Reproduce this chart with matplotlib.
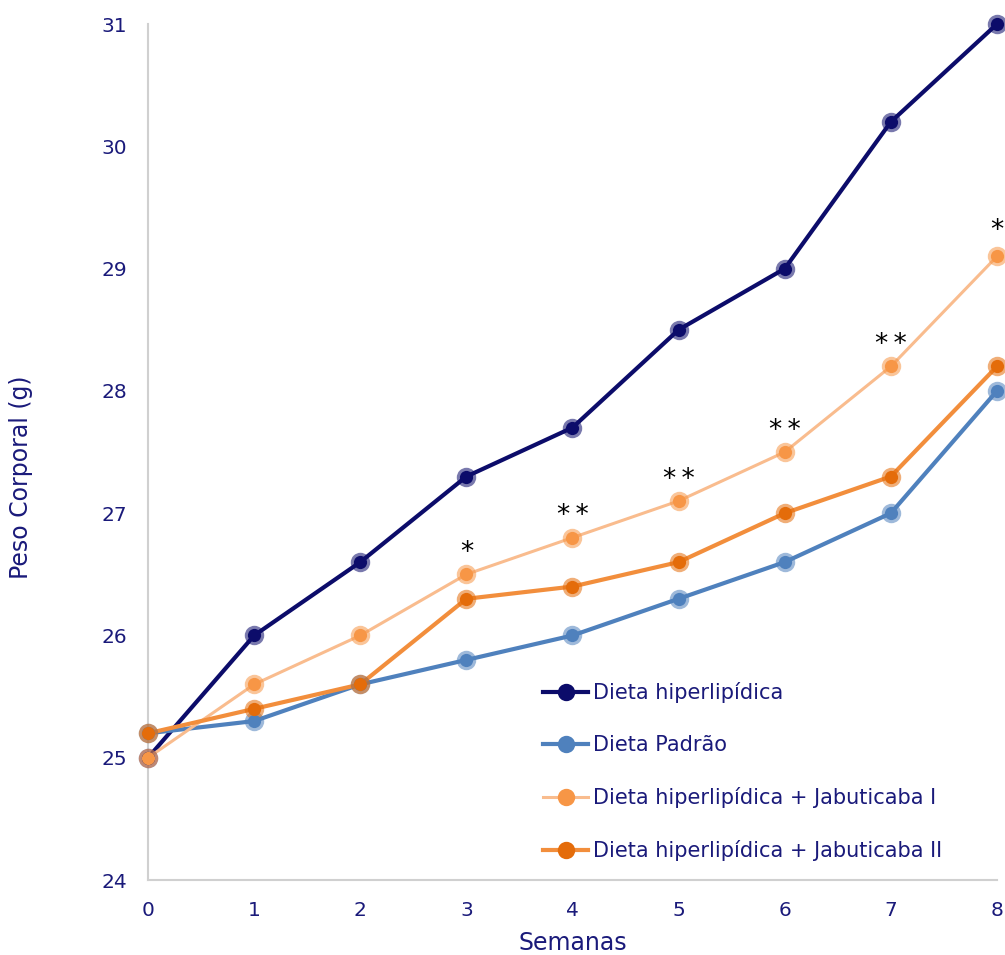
import matplotlib
matplotlib.use("Agg")
import matplotlib.pyplot as plt
from matplotlib.lines import Line2D

weeks = [0, 1, 2, 3, 4, 5, 6, 7, 8]
hiper = [25.0, 26.0, 26.6, 27.3, 27.7, 28.5, 29.0, 30.2, 31.0]
padrao = [25.2, 25.3, 25.6, 25.8, 26.0, 26.3, 26.6, 27.0, 28.0]
jab1 = [25.0, 25.6, 26.0, 26.5, 26.8, 27.1, 27.5, 28.2, 29.1]
jab2 = [25.2, 25.4, 25.6, 26.3, 26.4, 26.6, 27.0, 27.3, 28.2]
stars = ["", "", "", "*", "**", "**", "**", "**", "*"]

labels = ["Dieta hiperlipídica", "Dieta Padrão",
          "Dieta hiperlipídica + Jabuticaba I", "Dieta hiperlipídica + Jabuticaba II"]
series = [hiper, padrao, jab1, jab2]
line_colors = ["#0c0c6a", "#4f81bd", "#f9bc8e", "#f28e3c"]
mark_colors = ["#0c0c6a", "#4f81bd", "#f79646", "#e46c0a"]
lws = [3.0, 3.0, 2.2, 3.0]

navy = "#1a1a7a"

fig = plt.figure(figsize=(10.05, 9.55), dpi=100)
ax = fig.add_axes([0.1473, 0.0785, 0.8447, 0.8963])

handles = []
for ys, lab, lc, mc, lw in zip(series, labels, line_colors, mark_colors, lws):
    ax.plot(weeks, ys, color=lc, lw=lw, zorder=2, clip_on=False, solid_capstyle="round")
    ax.plot(weeks, ys, ls="none", marker="o", ms=14, color=mc, alpha=0.55,
            mew=0, zorder=3, clip_on=False)
    ax.plot(weeks, ys, ls="none", marker="o", ms=9.5, color=mc, mew=0,
            zorder=4, clip_on=False)
    handles.append(Line2D([0], [0], color=lc, lw=lw, marker="o", ms=10,
                          mfc=mc, mec=mc, mew=2.5, label=lab))

for x, y, s in zip(weeks, jab1, stars):
    if s:
        dy = 9 if x == weeks[-1] else 6
        ax.annotate("\u2009".join(s), (x, y), xytext=(0, dy), textcoords="offset points",
                    ha="center", va="bottom", fontsize=19, color="black",
                    annotation_clip=False)

ax.set_xlim(0, 8)
ax.set_ylim(24, 31)
ax.set_xticks(weeks)
ax.set_yticks(range(24, 32))
ax.tick_params(length=0, labelsize=14.5, labelcolor=navy)
ax.tick_params(axis="y", pad=15)
ax.tick_params(axis="x", pad=15)
for sp in ["top", "right"]:
    ax.spines[sp].set_visible(False)
for sp in ["left", "bottom"]:
    ax.spines[sp].set_color("#d0d0d0")
    ax.spines[sp].set_linewidth(1.5)

ax.set_xlabel("Semanas", fontsize=17, color=navy, labelpad=8)
ax.set_ylabel("Peso Corporal (g)", fontsize=17, color=navy)
ax.yaxis.set_label_coords(-0.135, 0.47)

leg = ax.legend(handles=handles, loc="upper left", bbox_to_anchor=(0.455, 0.2407),
                frameon=False, fontsize=15, handlelength=2.2, handletextpad=0.2,
                labelspacing=1.53, borderaxespad=0)
for t in leg.get_texts():
    t.set_color(navy)

fig.savefig("out.png", dpi=100)
